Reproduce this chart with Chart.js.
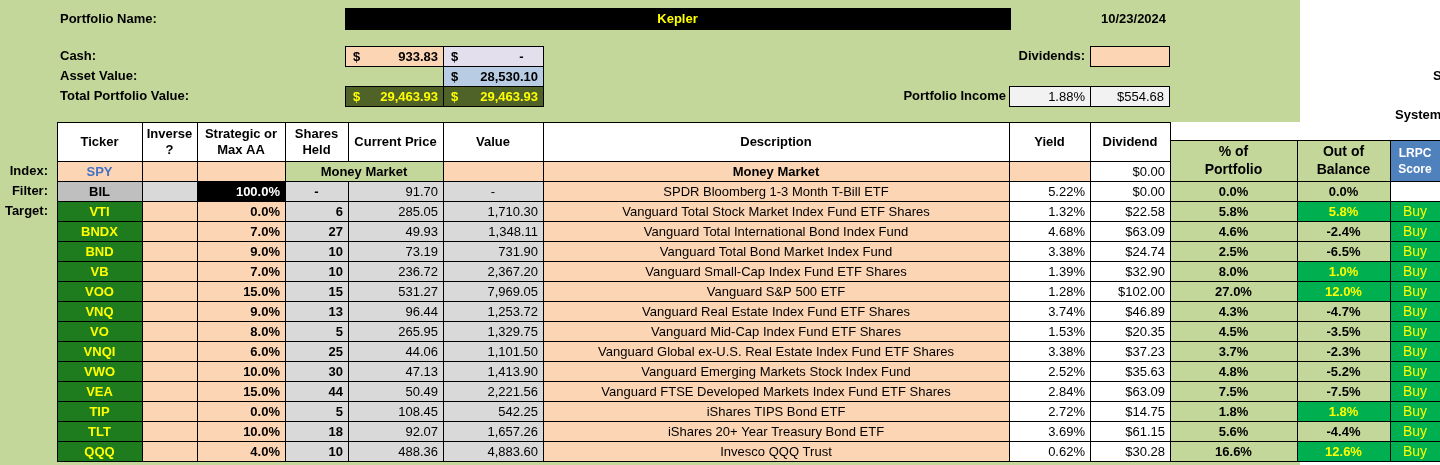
<!DOCTYPE html>
<html><head><meta charset="utf-8">
<script src="https://cdn.jsdelivr.net/npm/chart.js@4/dist/chart.umd.min.js"></script>
<style>html,body{margin:0;padding:0;background:#fff;overflow:hidden}canvas{display:block}</style>
</head><body><canvas id="c" width="1440" height="465"></canvas>
<script>
const tickers=['BIL','VTI','BNDX','BND','VB','VOO','VNQ','VO','VNQI','VWO','VEA','TIP','TLT','QQQ'];
const alloc=['100.0%','0.0%','7.0%','9.0%','7.0%','15.0%','9.0%','8.0%','6.0%','10.0%','15.0%','0.0%','10.0%','4.0%'];
const shares=['-','6','27','10','10','15','13','5','25','30','44','5','18','10'];
const prices=['91.70','285.05','49.93','73.19','236.72','531.27','96.44','265.95','44.06','47.13','50.49','108.45','92.07','488.36'];
const values=['-','1,710.30','1,348.11','731.90','2,367.20','7,969.05','1,253.72','1,329.75','1,101.50','1,413.90','2,221.56','542.25','1,657.26','4,883.60'];
const descs=['SPDR Bloomberg 1-3 Month T-Bill ETF','Vanguard Total Stock Market Index Fund ETF Shares','Vanguard Total International Bond Index Fund','Vanguard Total Bond Market Index Fund','Vanguard Small-Cap Index Fund ETF Shares','Vanguard S&P 500 ETF','Vanguard Real Estate Index Fund ETF Shares','Vanguard Mid-Cap Index Fund ETF Shares','Vanguard Global ex-U.S. Real Estate Index Fund ETF Shares','Vanguard Emerging Markets Stock Index Fund','Vanguard FTSE Developed Markets Index Fund ETF Shares','iShares TIPS Bond ETF','iShares 20+ Year Treasury Bond ETF','Invesco QQQ Trust'];
const yields=['5.22%','1.32%','4.68%','3.38%','1.39%','1.28%','3.74%','1.53%','3.38%','2.52%','2.84%','2.72%','3.69%','0.62%'];
const divs=['$0.00','$22.58','$63.09','$24.74','$32.90','$102.00','$46.89','$20.35','$37.23','$35.63','$63.09','$14.75','$61.15','$30.28'];
const pctPortfolio=['0.0%','5.8%','4.6%','2.5%','8.0%','27.0%','4.3%','4.5%','3.7%','4.8%','7.5%','1.8%','5.6%','16.6%'];
const outOfBalance=['0.0%','5.8%','-2.4%','-6.5%','1.0%','12.0%','-4.7%','-3.5%','-2.3%','-5.2%','-7.5%','1.8%','-4.4%','12.6%'];
const lrpc=['','Buy','Buy','Buy','Buy','Buy','Buy','Buy','Buy','Buy','Buy','Buy','Buy','Buy'];

const X=[0,57,142,197,285,348,443,543,1009,1090,1170,1297,1390,1440];
const F='Liberation Sans, Arial, sans-serif';
const G='#C4D79B',P='#FCD5B4',GR='#D9D9D9',DG='#1E7B1E',BG='#00B050';

const tablePlugin={id:'table',afterDraw(chart){
 const c=chart.ctx;c.save();
 function cell(x0,x1,y0,y1,bg,txt,o={}){
  if(bg){c.fillStyle=bg;c.fillRect(x0,y0,x1-x0,y1-y0);}
  if(o.border!==false){c.strokeStyle='#000';c.lineWidth=1;c.strokeRect(x0+.5,y0+.5,x1-x0,y1-y0);}
  if(txt!==undefined&&txt!==''){
   c.fillStyle=o.color||'#000';c.font=(o.bold===false?'':'bold ')+(o.size||13)+'px '+F;c.textBaseline='middle';
   const lines=String(txt).split('\n');const lh=o.size?o.size+4:16;
   lines.forEach((l,i)=>{const y=(y0+y1)/2+(i-(lines.length-1)/2)*lh+1;
    if(o.align==='right'){c.textAlign='right';c.fillText(l,x1-5,y);}
    else if(o.align==='left'){c.textAlign='left';c.fillText(l,x0+5,y);}
    else{c.textAlign='center';c.fillText(l,(x0+x1)/2,y);}});
  }
 }
 function dollar(x0,x1,y0,y1,bg,v,color){cell(x0,x1,y0,y1,bg,v,{align:'right',color});c.textAlign='left';c.fillStyle=color||'#000';c.fillText('$',x0+8,(y0+y1)/2+1);}
 function text(t,x,y,al,color,bold=true){c.fillStyle=color||'#000';c.font=(bold?'bold ':'')+'13px '+F;c.textAlign=al||'left';c.textBaseline='middle';c.fillText(t,x,y);}
 // background
 c.fillStyle=G;c.fillRect(0,0,1300,465);
 c.fillStyle='#fff';c.fillRect(1300,0,140,140);c.fillRect(1170,122,130,18);
 // top
 text('Portfolio Name:',60,19);
 cell(345,1010,8,29,'#000','Kepler',{color:'#FFFF00'});
 text('10/23/2024',1101,19);
 text('Cash:',60,56);text('Asset Value:',60,76);text('Total Portfolio Value:',60,96);
 dollar(345,443,46,66,P,'933.83');dollar(443,543,46,66,'#E4DFEC','-    ');
 dollar(443,543,66,86,'#B8CCE4','28,530.10');
 dollar(345,443,86,106,'#4F6228','29,463.93','#FFFF00');dollar(443,543,86,106,'#4F6228','29,463.93','#FFFF00');
 text('Dividends:',1085,56,'right');cell(1090,1169,46,66,P);
 text('Portfolio Income',1006,96,'right');
 cell(1009,1090,86,106,'#F2F2F2','1.88%',{align:'right',bold:false});cell(1090,1169,86,106,'#F2F2F2','$554.68',{align:'right',bold:false});
 text('S',1433,76);text('System',1395,115);
 // headers
 const hd=['Ticker','Inverse\n?','Strategic or\nMax AA','Shares\nHeld','Current Price','Value','Description','Yield','Dividend'];
 hd.forEach((h,i)=>cell(X[i+1],X[i+2],122,161,'#fff',h));
 cell(1170,1297,140,181,G,'% of\nPortfolio',{size:14});
 cell(1297,1390,140,181,G,'Out of\nBalance',{size:14});
 cell(1390,1440,140,181,'#4F81BD','LRPC\nScore',{color:'#fff',size:12});
 // index row
 const y0=161,y1=181;
 text('Index:',48,171,'right');text('Filter:',48,191,'right');text('Target:',48,211,'right');
 cell(57,142,y0,y1,P,'SPY',{color:'#4472C4'});cell(142,197,y0,y1,P);cell(197,285,y0,y1,P);
 cell(285,443,y0,y1,G,'Money Market');cell(443,543,y0,y1,P);cell(543,1009,y0,y1,P,'Money Market');
 cell(1009,1090,y0,y1,P);cell(1090,1170,y0,y1,'#fff','$0.00',{align:'right',bold:false});
 tickers.forEach((t,i)=>{
  const a=181+i*20,b=a+20,f=i===0;
  cell(57,142,a,b,f?'#BFBFBF':DG,t,{color:f?'#000':'#FFFF00'});
  cell(142,197,a,b,f?GR:P);
  cell(197,285,a,b,f?'#000':P,alloc[i],{align:'right',color:f?'#fff':'#000'});
  cell(285,348,a,b,GR,shares[i],{align:f?'center':'right'});
  cell(348,443,a,b,GR,prices[i],{align:'right',bold:false});
  cell(443,543,a,b,GR,values[i],{align:f?'center':'right',bold:false});
  cell(543,1009,a,b,P,descs[i],{bold:false});
  cell(1009,1090,a,b,'#fff',yields[i],{align:'right',bold:false});
  cell(1090,1170,a,b,'#fff',divs[i],{align:'right',bold:false});
  cell(1170,1297,a,b,G,pctPortfolio[i]);
  const pos=parseFloat(outOfBalance[i])>0;
  cell(1297,1390,a,b,pos?BG:G,outOfBalance[i],{color:pos?'#FFFF00':'#000'});
  cell(1390,1440,a,b,lrpc[i]?BG:'#fff',lrpc[i],{color:'#FFFF00',bold:false,size:14});
 });
 c.restore();
}};
new Chart(document.getElementById('c'),{type:'bar',data:{labels:tickers,datasets:[{data:[],backgroundColor:'transparent'}]},
 options:{responsive:false,animation:false,devicePixelRatio:1,plugins:{legend:{display:false},tooltip:{enabled:false}},
 scales:{x:{display:false},y:{display:false}}},plugins:[tablePlugin]});
</script></body></html>
